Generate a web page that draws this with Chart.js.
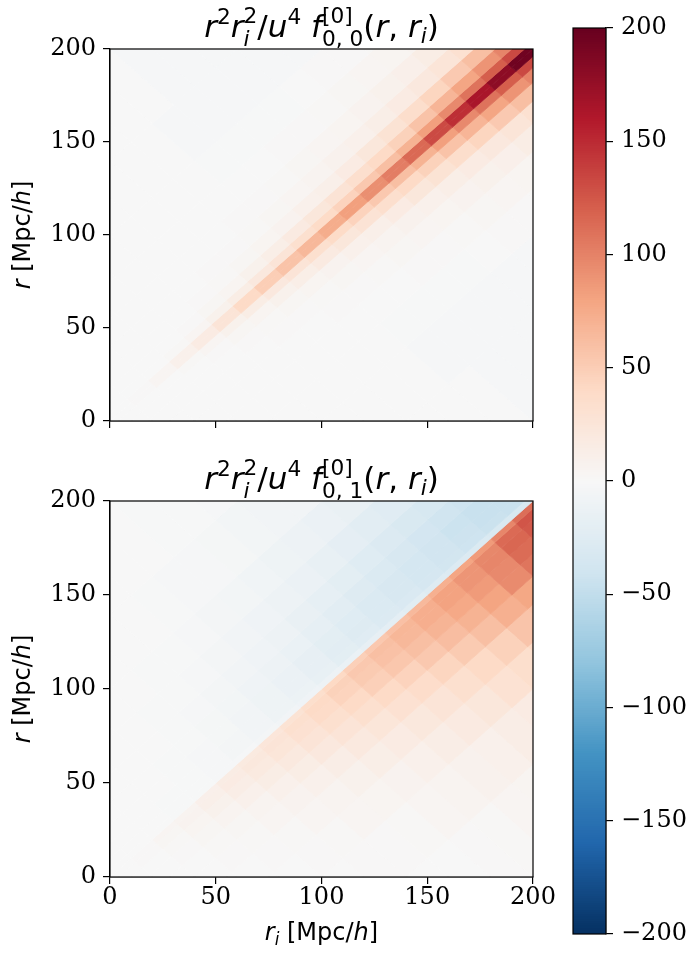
<!DOCTYPE html>
<html>
<head>
<meta charset="utf-8">
<script src="https://cdn.jsdelivr.net/npm/chart.js@4.4.1/dist/chart.umd.min.js"></script>
<style>
  html, body { margin: 0; padding: 0; background: #fff; overflow: hidden; }
  #fig { position: relative; width: 692px; height: 954px; }
  canvas { position: absolute; }
</style>
</head>
<body>
<div id="fig">
  <canvas id="top" width="560" height="440" style="left:0;top:0"></canvas>
  <canvas id="bottom" width="560" height="504" style="left:0;top:450px"></canvas>
  <canvas id="cbar" width="132" height="954" style="left:560px;top:0"></canvas>
</div>
<script>
// The maps are stored on a grid aligned with the diagonal:
//   s = (r + r_i)/2  (position along the diagonal, bins of width 10)
//   d = r - r_i      (offset from the diagonal, bins given by their edges)
var sCenters = [5, 15, 25, 35, 45, 55, 65, 75, 85, 95, 105, 115, 125, 135, 145, 155, 165, 175, 185, 195];
var dEdges = [-200, -140, -100, -75, -55, -40, -28, -18, -10, -4, 0, 4, 10, 18, 28, 40, 55, 75, 100, 140, 200];
var axisTicks = [0, 50, 100, 150, 200];
var cbarTicks = [-200, -150, -100, -50, 0, 50, 100, 150, 200];
var vmin = -200, vmax = 200;

// f_{0,0}: row k = d bin (dEdges[k]..dEdges[k+1]), column i = sCenters[i]
var f00 = [
  [0,0,0,0,0,0,0,0,0,0,-2,-2,-2,-2,-2,0,0,0,0,0],
  [0,0,0,0,0,0,0,0,0,-2,-2,-2,-2,-2,-2,-2,0,0,0,1],
  [0,0,0,0,0,0,0,0,0,-1,-1,-1,-1,0,1,1,2,2,4,4],
  [0,0,0,0,0,0,0,0,0,0,0,1,1,2,3,4,5,7,9,11],
  [0,0,0,0,0,0,0,0,1,1,2,3,4,5,7,9,11,15,17,20],
  [0,0,0,0,0,0,1,1,2,3,4,6,8,10,13,17,21,26,32,39],
  [0,0,0,0,0,1,2,3,5,7,10,12,17,23,29,36,44,53,61,68],
  [0,0,0,0,1,3,5,9,13,18,23,28,34,40,47,58,68,79,90,99],
  [0,0,0,2,4,9,15,21,27,33,39,46,54,61,70,83,96,109,121,133],
  [0,1,4,10,17,27,40,50,58,66,74,83,93,103,115,132,148,165,180,195],
  [0,1,4,10,17,27,40,50,58,66,74,83,93,103,115,132,148,165,180,195],
  [0,0,0,2,4,9,15,21,27,33,39,46,54,61,70,83,96,109,121,133],
  [0,0,0,0,1,3,5,9,13,18,23,28,34,40,47,58,68,79,90,99],
  [0,0,0,0,0,1,2,3,5,7,10,12,17,23,29,36,44,53,61,68],
  [0,0,0,0,0,0,1,1,2,3,4,6,8,10,13,17,21,26,32,39],
  [0,0,0,0,0,0,0,0,1,1,2,3,4,5,7,9,11,15,17,20],
  [0,0,0,0,0,0,0,0,0,0,0,1,1,2,3,4,5,7,9,11],
  [0,0,0,0,0,0,0,0,0,-1,-1,-1,-1,0,1,1,2,2,4,4],
  [0,0,0,0,0,0,0,0,0,-2,-2,-2,-2,-2,-2,-2,0,0,0,1],
  [0,0,0,0,0,0,0,0,0,0,-2,-2,-2,-2,-2,0,0,0,0,0]
];

// f_{0,1}: same layout
var f01 = [
  [0,0,0,0,0,0,0,0,0,1,2,4,5,5,6,8,10,10,10,10],
  [0,0,0,0,0,0,1,1,2,4,6,8,10,14,17,20,25,30,30,30],
  [0,0,0,0,0,1,2,4,5,7,10,14,18,23,30,35,41,45,50,50],
  [0,0,0,0,1,2,4,6,9,13,17,22,27,33,40,47,57,60,70,70],
  [0,0,0,1,2,4,7,10,14,20,25,31,37,44,52,61,72,78,90,90],
  [0,0,0,2,3,6,10,15,21,27,33,40,46,54,62,70,80,95,108,110],
  [0,0,1,3,6,10,15,20,27,33,40,48,55,61,69,77,86,96,113,120],
  [0,0,2,5,9,14,19,25,31,38,45,52,59,66,73,81,89,98,116,124],
  [0,1,3,7,12,17,22,27,33,40,47,54,61,67,73,81,89,97,114,126],
  [0,1,4,6,11,16,19,24,29,35,41,48,54,60,65,72,79,86,98,112],
  [0,0,0,-1,-1,-2,-2,-4,-6,-8,-11,-14,-17,-20,-23,-26,-28,-30,-32,-34],
  [0,0,0,-1,-1,-2,-4,-6,-9,-12,-16,-21,-24,-28,-31,-35,-38,-41,-44,-45],
  [0,0,0,-1,-1,-2,-4,-6,-10,-13,-17,-22,-26,-29,-33,-36,-39,-42,-45,-45],
  [0,0,0,0,-1,-2,-3,-6,-9,-13,-17,-21,-25,-29,-33,-36,-39,-43,-45,-45],
  [0,0,0,0,-1,-1,-3,-5,-8,-11,-14,-18,-22,-26,-30,-33,-37,-40,-42,-42],
  [0,0,0,0,0,-1,-2,-4,-6,-8,-11,-15,-18,-21,-25,-28,-32,-34,-36,-36],
  [0,0,0,0,0,-1,-1,-2,-4,-6,-8,-11,-13,-16,-19,-22,-24,-26,-28,-28],
  [0,0,0,0,0,0,-1,-1,-2,-4,-5,-7,-9,-11,-13,-15,-16,-18,-20,-20],
  [0,0,0,0,0,0,0,0,-1,-2,-2,-3,-5,-6,-6,-8,-9,-10,-10,-10],
  [0,0,0,0,0,0,0,0,0,0,-1,-1,-2,-2,-2,-3,-3,-3,-3,-3]
];

var SERIF = '"DejaVu Serif"';
var SANS = '"DejaVu Sans"';

// RdBu_r
var rdbu = ['#053061','#2166ac','#4393c3','#92c5de','#d1e5f0','#f7f7f7',
            '#fddbc7','#f4a582','#d6604d','#b2182b','#67001f'];
function hexRgb(h) {
  return [parseInt(h.substr(1, 2), 16), parseInt(h.substr(3, 2), 16), parseInt(h.substr(5, 2), 16)];
}
function cmap(v) {
  var t = (Math.max(vmin, Math.min(vmax, v)) - vmin) / (vmax - vmin) * (rdbu.length - 1);
  var k = Math.min(rdbu.length - 2, Math.floor(t)), f = t - k;
  var a = hexRgb(rdbu[k]), b = hexRgb(rdbu[k + 1]);
  return 'rgb(' + Math.round(a[0] + (b[0] - a[0]) * f) + ',' +
    Math.round(a[1] + (b[1] - a[1]) * f) + ',' + Math.round(a[2] + (b[2] - a[2]) * f) + ')';
}

function buildCells(grid) {
  var cells = [];
  var hs = (sCenters[1] - sCenters[0]) / 2;
  for (var k = 0; k < dEdges.length - 1; k++) {
    for (var i = 0; i < sCenters.length; i++) {
      var s = sCenters[i], dc = (dEdges[k] + dEdges[k + 1]) / 2;
      cells.push({x: s - dc / 2, y: s + dc / 2, s0: s - hs, s1: s + hs,
                  d0: dEdges[k], d1: dEdges[k + 1], v: grid[k][i]});
    }
  }
  return cells;
}

var heatmap = {
  id: 'heatmap',
  beforeDatasetsDraw: function(chart) {
    var ctx = chart.ctx, xs = chart.scales.x, ys = chart.scales.y, a = chart.chartArea;
    function px(s, d) { return [xs.getPixelForValue(s - d / 2), ys.getPixelForValue(s + d / 2)]; }
    ctx.save();
    ctx.beginPath();
    ctx.rect(a.left, a.top, a.right - a.left, a.bottom - a.top);
    ctx.clip();
    ctx.lineWidth = 0.8;
    ctx.lineJoin = 'round';
    chart.data.datasets[0].data.forEach(function(c) {
      var p = [px(c.s0, c.d0), px(c.s1, c.d0), px(c.s1, c.d1), px(c.s0, c.d1)];
      ctx.fillStyle = ctx.strokeStyle = cmap(c.v);
      ctx.beginPath();
      ctx.moveTo(p[0][0], p[0][1]);
      for (var n = 1; n < 4; n++) ctx.lineTo(p[n][0], p[n][1]);
      ctx.closePath();
      ctx.fill();
      ctx.stroke();
    });
    ctx.restore();
  }
};

var frame = {
  id: 'frame',
  afterDraw: function(chart) {
    var ctx = chart.ctx, a = chart.chartArea;
    ctx.save();
    ctx.strokeStyle = '#000';
    ctx.lineWidth = 1.2;
    ctx.strokeRect(a.left, a.top, a.right - a.left, a.bottom - a.top);
    ctx.restore();
  }
};

// tiny mathtext: [text, style], style n / i, prefixed ^ or _ for scripts
function layoutMath(ctx, parts, size) {
  var out = [], x = 0, start = 0, prevW = 0;
  for (var k = 0; k < parts.length; k++) {
    var t = parts[k][0], st = parts[k][1];
    var kind = st.length > 1 ? st[0] : '';
    var it = st[st.length - 1] === 'i';
    var fs = kind ? size * 0.7 : size;
    var font = (it ? 'italic ' : '') + fs + 'px ' + SANS;
    ctx.font = font;
    var w = ctx.measureText(t).width;
    var prev = k > 0 ? parts[k - 1][1] : '', next = k + 1 < parts.length ? parts[k + 1][1] : '';
    var dy = 0, px = x;
    if (kind === '^') {
      dy = next[0] === '_' ? -0.45 * size : -0.42 * size;
      start = x; prevW = w; x += w;
    } else if (kind === '_') {
      if (prev.length > 1 && prev[0] === '^') {
        dy = 0.3 * size; px = start; x = start + Math.max(prevW, w);
      } else {
        dy = 0.2 * size; x += w;
      }
    } else {
      x += w;
    }
    out.push({t: t, font: font, x: px, dy: dy});
  }
  return {items: out, width: x};
}
function drawMath(ctx, parts, cx, baseline, size) {
  ctx.save();
  var lay = layoutMath(ctx, parts, size);
  var x0 = cx - lay.width / 2;
  ctx.fillStyle = '#000';
  ctx.textBaseline = 'alphabetic';
  ctx.textAlign = 'left';
  lay.items.forEach(function(d) {
    ctx.font = d.font;
    ctx.fillText(d.t, x0 + d.x, baseline + d.dy);
  });
  ctx.restore();
}

var title00 = [['r','i'],['2','^n'],['r','i'],['2','^n'],['i','_i'],['/','n'],['u','i'],['4','^n'],[' ','n'],
  ['f','i'],['[0]','^n'],['0, 0','_n'],['(','n'],['r','i'],[',','n'],[' ','n'],['r','i'],['i','_i'],[')','n']];
var title01 = [['r','i'],['2','^n'],['r','i'],['2','^n'],['i','_i'],['/','n'],['u','i'],['4','^n'],[' ','n'],
  ['f','i'],['[0]','^n'],['0, 1','_n'],['(','n'],['r','i'],[',','n'],[' ','n'],['r','i'],['i','_i'],[')','n']];
var ylabelParts = [['r','i'],[' ','n'],['[Mpc/','n'],['h','i'],[']','n']];
var xlabelParts = [['r','i'],['i','_i'],[' ','n'],['[Mpc/','n'],['h','i'],[']','n']];

function labelPlugin(title, xlabel) {
  return {
    id: 'mathLabels',
    afterDraw: function(chart) {
      var ctx = chart.ctx, a = chart.chartArea;
      var cx = (a.left + a.right) / 2, cy = (a.top + a.bottom) / 2;
      drawMath(ctx, title, cx, a.top - 12, 31);
      ctx.save();
      ctx.translate(30, cy);
      ctx.rotate(-Math.PI / 2);
      drawMath(ctx, ylabelParts, 0, 0, 24);
      ctx.restore();
      if (xlabel) drawMath(ctx, xlabel, cx, a.bottom + 63, 24);
    }
  };
}

function tickFmt(v) {
  return v < 0 ? '\u2212' + (-v) : String(v);
}

function createHeatmap(canvas, cells, title, xlabel, pad, xAxisHeight) {
  return new Chart(canvas, {
    type: 'scatter',
    data: { datasets: [{ data: cells, pointRadius: 0, showLine: false }] },
    options: {
      responsive: false,
      animation: false,
      devicePixelRatio: 1,
      layout: { padding: pad },
      plugins: { legend: { display: false }, tooltip: { enabled: false } },
      scales: {
        x: {
          type: 'linear', min: 0, max: 200, position: 'bottom',
          afterBuildTicks: function(s) { s.ticks = axisTicks.map(function(v) { return {value: v}; }); },
          afterFit: function(s) { s.height = xAxisHeight; },
          ticks: { display: !!xlabel, font: { family: SERIF, size: 24, lineHeight: 1 }, color: '#000', padding: 2, maxRotation: 0, callback: tickFmt },
          grid: { drawOnChartArea: false, drawTicks: true, tickLength: 7, color: '#000', lineWidth: 1.2 },
          border: { display: true, color: '#000', width: 1.2 }
        },
        y: {
          type: 'linear', min: 0, max: 200, position: 'left',
          afterBuildTicks: function(s) { s.ticks = axisTicks.map(function(v) { return {value: v}; }); },
          afterFit: function(s) { s.width = 110; },
          ticks: { font: { family: SERIF, size: 24, lineHeight: 1 }, color: '#000', padding: 7, callback: tickFmt },
          grid: { drawOnChartArea: false, drawTicks: true, tickLength: 7, color: '#000', lineWidth: 1.2 },
          border: { display: true, color: '#000', width: 1.2 }
        }
      }
    },
    plugins: [heatmap, frame, labelPlugin(title, xlabel)]
  });
}

var colorbarFill = {
  id: 'colorbarFill',
  beforeDatasetsDraw: function(chart) {
    var ctx = chart.ctx, ys = chart.scales.y, a = chart.chartArea;
    ctx.save();
    for (var v = vmin; v < vmax; v++) {
      var yb = ys.getPixelForValue(v), yt = ys.getPixelForValue(v + 1);
      ctx.fillStyle = cmap(v + 0.5);
      ctx.fillRect(a.left, Math.floor(yt), a.right - a.left, Math.ceil(yb) - Math.floor(yt));
    }
    ctx.restore();
  }
};

createHeatmap(document.getElementById('top'), buildCells(f00), title00, null,
  { top: 49, left: 0, right: 27, bottom: 0 }, 15);
createHeatmap(document.getElementById('bottom'), buildCells(f01), title01, xlabelParts,
  { top: 51, left: 0, right: 27, bottom: 0 }, 77);

new Chart(document.getElementById('cbar'), {
  type: 'scatter',
  data: { datasets: [{ data: [], pointRadius: 0 }] },
  options: {
    responsive: false,
    animation: false,
    devicePixelRatio: 1,
    layout: { padding: { left: 13, right: 0, top: 28, bottom: 12 } },
    plugins: { legend: { display: false }, tooltip: { enabled: false } },
    scales: {
      x: { display: false, min: 0, max: 1 },
      y: {
        type: 'linear', position: 'right', min: vmin, max: vmax,
        afterBuildTicks: function(s) { s.ticks = cbarTicks.map(function(v) { return {value: v}; }); },
        afterFit: function(s) { s.width = 86; },
        ticks: { font: { family: SERIF, size: 24, lineHeight: 1 }, color: '#000', padding: 8, callback: tickFmt },
        grid: { drawOnChartArea: false, drawTicks: true, tickLength: 7, color: '#000', lineWidth: 1.2 },
        border: { display: true, color: '#000', width: 1.2 }
      }
    }
  },
  plugins: [colorbarFill, frame]
});
</script>
</body>
</html>
